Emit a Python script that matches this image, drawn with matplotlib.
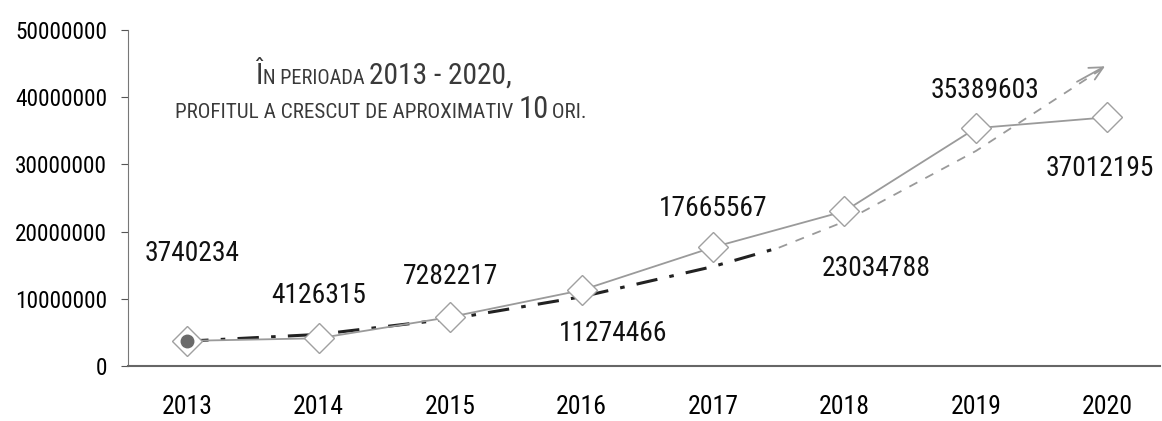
import matplotlib
matplotlib.use("Agg")
import matplotlib.pyplot as plt
from matplotlib import font_manager
from matplotlib.textpath import TextPath
from matplotlib.font_manager import FontProperties

years = ["2013", "2014", "2015", "2016", "2017", "2018", "2019", "2020"]
profit = [3740234, 4126315, 7282217, 11274466, 17665567, 23034788, 35389603, 37012195]
trend_black_x = [0, 1, 2, 3, 4, 4.5]
trend_black = [3700000, 4700000, 7000000, 10300000, 14800000, 17600000]
trend_gray_x = [4.5, 5, 6, 7.0]
trend_gray = [17600000, 21500000, 32000000, 44800000]
yticks = [0, 10000000, 20000000, 30000000, 40000000, 50000000]
note_line1 = [("Î", "big"), ("N PERIOADA ", "small"), ("2013 - 2020,", "big")]
note_line2 = [("PROFITUL A CRESCUT DE APROXIMATIV ", "small"), ("10", "big"), (" ORI.", "small")]


def _w(f):
    w = f.weight
    if isinstance(w, str):
        w = {"normal": 400, "regular": 400, "book": 400, "medium": 500, "light": 300}.get(w.lower(), 0)
    return w


# ---- font choice: prefer a narrow/condensed face in regular weight ----
entries = font_manager.fontManager.ttflist
family, stretch = "DejaVu Sans", "normal"
cond_stretch = ("condensed", "semi-condensed", "extra-condensed", "ultra-condensed")
regular_cond = [f for f in entries if f.style == "normal" and _w(f) in (400, 500)
                and (str(f.stretch) in cond_stretch or "Condensed" in f.name or "Narrow" in f.name)]
pref = ["Liberation Sans Narrow", "Noto Sans", "Open Sans", "Roboto Condensed", "Noto Sans Condensed",
        "Open Sans Condensed", "DejaVu Sans"]
chosen = None
for p in pref:
    for f in regular_cond:
        if f.name == p:
            chosen = f
            break
    if chosen:
        break
if chosen is None and regular_cond:
    chosen = sorted(regular_cond, key=lambda f: f.name)[0]
if chosen is not None:
    family = chosen.name
    stretch = str(chosen.stretch) if str(chosen.stretch) in cond_stretch else "normal"
    weight = _w(chosen)
else:
    weight = 400
plt.rcParams["font.family"] = [family, "DejaVu Sans"]
plt.rcParams["font.stretch"] = stretch
plt.rcParams["font.weight"] = weight

fp = FontProperties(family=family, stretch=stretch, weight=weight)
fig = plt.figure(figsize=(11.62, 4.21), dpi=100)


def size_for(sample, target_w, target_h):
    tp = TextPath((0, 0), sample, size=100, prop=fp).get_extents()
    s_w = 100 * target_w / tp.width
    s_h = 100 * target_h / tp.height
    return ((s_w * s_h) ** 0.5) * 72 / 100


lab_fs = size_for("3740234", 93, 20)
xt_fs = size_for("2013", 50, 18)
yt_fs = size_for("50000000", 95, 16)

ax = fig.add_axes([128 / 1162, 1 - 366 / 421, (1160 - 128) / 1162, (366 - 30) / 421])
x = list(range(len(years)))

ax.plot(trend_black_x, trend_black, color="#222222", lw=2.2, ls=(0, (7, 4, 1.5, 4)), zorder=2)
ax.plot(trend_gray_x[:-1] + [trend_gray_x[-1] - 0.05], trend_gray[:-1] + [trend_gray[-1] - 0.7e6],
        color="#9a9a9a", lw=1.3, ls=(0, (5, 5)), zorder=2)
ax.annotate("", xy=(trend_gray_x[-1], trend_gray[-1]), xytext=(trend_gray_x[-1] - 0.25, trend_gray[-1] - 2.7e6),
            arrowprops=dict(arrowstyle="->", color="#9a9a9a", lw=1.3, mutation_scale=24))

ax.plot(x, profit, color="#9a9a9a", lw=1.3, marker="D", markersize=15, markerfacecolor="white",
        markeredgecolor="#a0a0a0", markeredgewidth=1.0, zorder=3)
ax.plot([x[0]], [profit[0]], marker="o", markersize=9, color="#6a6a6a", zorder=4)

label_offsets = [(0.04, 13.0e6), (0.0, 6.3e6), (0.0, 6.0e6), (0.24, -6.5e6),
                 (0.0, 5.8e6), (0.24, -8.5e6), (0.07, 5.6e6), (-0.06, -7.6e6)]
for i, v in enumerate(profit):
    dx, dy = label_offsets[i]
    ax.text(i + dx, v + dy, str(v), ha="center", va="center", fontsize=lab_fs, color="#111111")


def place_line(pieces, cx, base_y, width_px, big_rel=1.45):
    base = 12
    sizes = [base * (big_rel if k == "big" else 1.0) for _, k in pieces]
    widths = []
    for (s, _), fs in zip(pieces, sizes):
        tp = TextPath((0, 0), s.replace(" ", "\u00a0"), size=fs * 100 / 72, prop=fp)
        widths.append(tp.vertices[:, 0].max() if len(tp.vertices) else 0)
    adj = []
    for (s, _), fs, w in zip(pieces, sizes, widths):
        sp = TextPath((0, 0), "a a", size=fs * 100 / 72, prop=fp).get_extents().width - \
            TextPath((0, 0), "aa", size=fs * 100 / 72, prop=fp).get_extents().width
        adj.append(w + sp * (len(s) - len(s.rstrip(" "))) + (sp if s.startswith(" ") and w == 0 else 0))
    scale = width_px / sum(adj)
    xpos = cx - width_px / 2
    for (s, _), fs, w in zip(pieces, sizes, adj):
        fig.text(xpos / 1162, 1 - base_y / 421, s, fontsize=fs * scale, ha="left", va="baseline",
                 color="#3a3a3a")
        xpos += w * scale


place_line(note_line1, 383, 84, 255)
place_line(note_line2, 380, 118, 410)

ax.set_xlim(-0.45, 7.4)
ax.set_ylim(0, 50000000)
ax.set_xticks(x)
ax.set_xticklabels(years, fontsize=xt_fs)
ax.set_yticks(yticks)
ax.set_yticklabels([str(t) for t in yticks], fontsize=yt_fs)
ax.tick_params(axis="x", length=0, pad=21)
ax.tick_params(axis="y", length=5, pad=10, color="#555555")
for s in ["top", "right"]:
    ax.spines[s].set_visible(False)
ax.spines["left"].set_color("#777777")
ax.spines["bottom"].set_color("#666666")
ax.spines["bottom"].set_linewidth(1.5)

fig.savefig("out.png", dpi=100)
